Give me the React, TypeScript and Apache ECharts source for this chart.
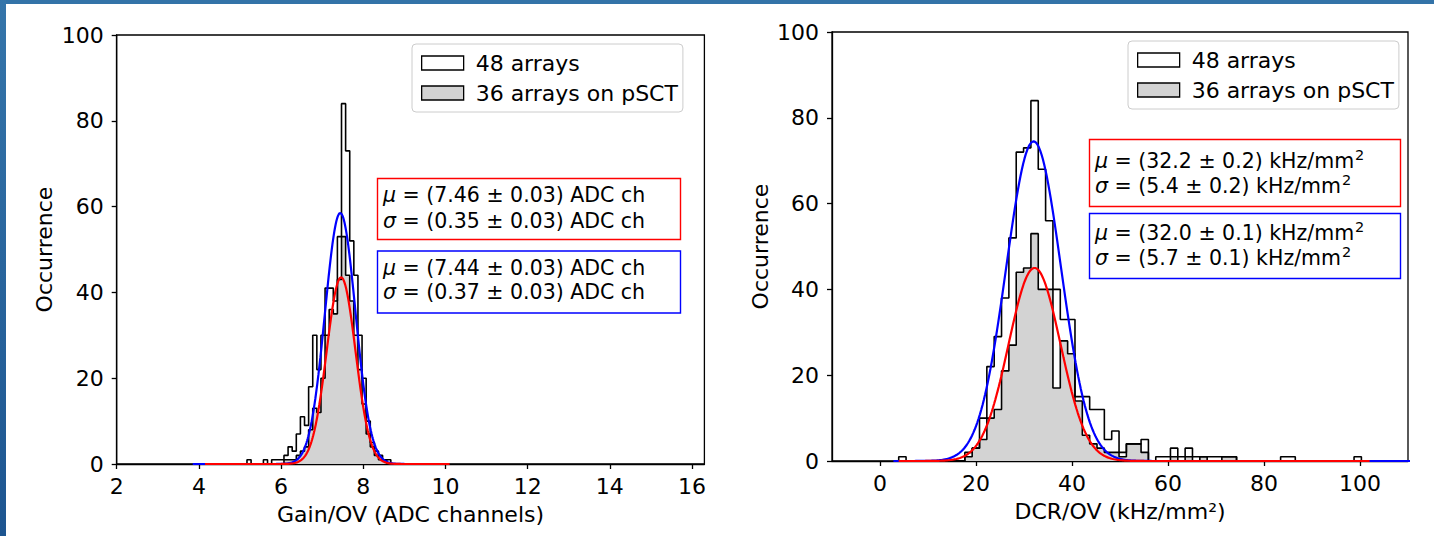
import React, { useEffect, useRef } from "react";
import * as echarts from "echarts";

const FONT = "DejaVu Sans";
const AXIS_FS = 22;

// ---------- Left panel: Gain/OV ----------
const gainBinStart = 5.17;
const gainBinWidth = 0.1;
const gainCounts48 = [1, 0, 0, 0, 1, 0, 1, 1, 1, 2, 4, 3, 7, 11, 9, 18, 30, 22, 30, 41, 41, 38, 53, 84, 73, 52, 44, 30, 20, 10, 5, 3, 2, 1, 1, 0];
const gainCounts36 = [0, 0, 0, 0, 0, 0, 0, 0, 0, 1, 1, 1, 2, 3, 4, 8, 13, 12, 20, 30, 36, 35, 43, 53, 44, 38, 30, 22, 14, 7, 4, 2, 1, 1, 0, 0];
const gainXTicks = [2, 4, 6, 8, 10, 12, 14, 16];
// fit parameters: [36 arrays (red), 48 arrays (blue)]
const gainFitMu = [7.46, 7.44];
const gainFitSigma = [0.35, 0.37];
const gainFitPeak = [43.5, 58.5];
const gainFitFrom = [4.15, 3.85];
const gainFitTo = [10.1, 10.0];
const gainRedLabels = ["(7.46 ± 0.03) ADC ch", "(0.35 ± 0.03) ADC ch"];
const gainBlueLabels = ["(7.44 ± 0.03) ADC ch", "(0.37 ± 0.03) ADC ch"];

// ---------- Right panel: DCR/OV ----------
const dcrBinStart = 3.9;
const dcrBinWidth = 1.53;
const dcrCounts48 = [1, 0, 0, 0, 0, 0, 0, 0, 0,
  2, 3, 10, 22, 29, 38, 52, 72, 73, 84, 68, 56, 40, 33, 33, 15, 15, 12, 12, 5, 7, 2, 4, 4, 5, 0, 1, 1, 3, 1, 3, 1, 1, 1, 1, 1, 1,
  0, 0, 0, 0, 0, 0, 1, 1, 0, 0, 0, 0, 0, 0, 0, 0, 1, 0];
const dcrCounts36 = [0, 0, 0, 0, 0, 0, 0, 0, 0,
  1, 3, 5, 10, 12, 21, 27, 44, 45, 53, 40, 40, 17, 28, 25, 14, 6, 4, 3, 2, 2, 1, 4, 4, 2, 0, 0, 0, 1, 0, 1, 0, 1, 0, 0, 1, 1,
  0, 0, 0, 0, 0, 0, 0, 0, 0, 0, 0, 0, 0, 0, 0, 0, 0, 0];
const dcrXTicks = [0, 20, 40, 60, 80, 100];
const dcrFitMu = [32.2, 32.0];
const dcrFitSigma = [5.4, 5.7];
const dcrFitPeak = [45, 74.5];
const dcrFitFrom = [3.9, 2.8];
const dcrFitTo = [102, 112];
const dcrRedLabels = ["(32.2 ± 0.2) kHz/mm²", "(5.4 ± 0.2) kHz/mm²"];
const dcrBlueLabels = ["(32.0 ± 0.1) kHz/mm²", "(5.7 ± 0.1) kHz/mm²"];

const yTicks = [0, 20, 40, 60, 80, 100];
const seriesNames = ["48 arrays", "36 arrays on pSCT"];

function stepData(start: number, width: number, counts: number[]) {
  const pts: number[][] = [[start, 0]];
  counts.forEach((c, i) => pts.push([+(start + i * width).toFixed(4), c]));
  pts.push([+(start + counts.length * width).toFixed(4), 0]);
  return pts;
}

function gaussCurve(mu: number, sigma: number, peak: number, from: number, to: number) {
  const pts: number[][] = [];
  const n = 400;
  for (let i = 0; i <= n; i++) {
    const x = from + ((to - from) * i) / n;
    pts.push([x, peak * Math.exp(-((x - mu) ** 2) / (2 * sigma * sigma))]);
  }
  return pts;
}

const axisColor = "#000";

function xAxis(gridIndex: number, min: number, max: number, ticks: number[], name: string) {
  return {
    type: "value",
    gridIndex,
    min,
    max,
    name,
    nameLocation: "middle",
    nameGap: 39,
    nameTextStyle: { fontFamily: FONT, fontSize: AXIS_FS, color: "#000" },
    axisLine: { show: true, onZero: false, lineStyle: { color: axisColor, width: 1.3 } },
    axisTick: { show: true, length: 5, lineStyle: { color: axisColor, width: 1.3 }, customValues: ticks },
    axisLabel: { fontFamily: FONT, fontSize: AXIS_FS, color: "#000", margin: 11, customValues: ticks },
    splitLine: { show: false },
  };
}

function yAxis(gridIndex: number) {
  return {
    type: "value",
    gridIndex,
    min: 0,
    max: 100,
    interval: 20,
    name: "Occurrence",
    nameLocation: "middle",
    nameGap: 61,
    nameRotate: 90,
    nameTextStyle: { fontFamily: FONT, fontSize: AXIS_FS, color: "#000" },
    axisLine: { show: true, onZero: false, lineStyle: { color: axisColor, width: 1.3 } },
    axisTick: { show: true, length: 5, lineStyle: { color: axisColor, width: 1.3 }, customValues: yTicks },
    axisLabel: { fontFamily: FONT, fontSize: AXIS_FS, color: "#000", margin: 13, customValues: yTicks },
    splitLine: { show: false },
  };
}

function histSeries(name: string, idx: number, data: number[][], filled: boolean) {
  return {
    name,
    type: "line",
    xAxisIndex: idx,
    yAxisIndex: idx,
    step: "end",
    showSymbol: false,
    symbol: "none",
    data,
    z: filled ? 2 : 3,
    lineStyle: { color: "#000", width: 1.6 },
    itemStyle: { color: filled ? "#d3d3d3" : "#ffffff" },
    areaStyle: filled ? { color: "#d3d3d3", opacity: 1 } : undefined,
    silent: true,
  };
}

function fitSeries(idx: number, color: string, data: number[][], z: number) {
  return {
    type: "line",
    xAxisIndex: idx,
    yAxisIndex: idx,
    showSymbol: false,
    symbol: "none",
    data,
    z,
    lineStyle: { color, width: 2.2 },
    silent: true,
  };
}

function legend(left: number, top: number) {
  return {
    orient: "vertical",
    left,
    top,
    padding: [8, 5, 8, 9],
    itemGap: 8,
    itemWidth: 42,
    itemHeight: 14,
    selectedMode: false,
    backgroundColor: "rgba(255,255,255,0.8)",
    borderColor: "#cccccc",
    borderWidth: 1,
    borderRadius: 4,
    textStyle: { fontFamily: FONT, fontSize: AXIS_FS, color: "#000", padding: [0, 0, 0, 7] },
    data: [
      { name: seriesNames[0], icon: "rect", itemStyle: { color: "#ffffff", borderColor: "#000", borderWidth: 1.3 } },
      { name: seriesNames[1], icon: "rect", itemStyle: { color: "#d3d3d3", borderColor: "#000", borderWidth: 1.3 } },
    ],
  };
}

const FIT_FS = 20.5;

function fitBox(x: number, y: number, w: number, h: number, color: string, lines: string[], textX: number, lineYs: number[]) {
  const els: any[] = [
    {
      type: "rect",
      shape: { x, y, width: w, height: h },
      style: { fill: "#ffffff", stroke: color, lineWidth: 1.4 },
      z: 20,
    },
  ];
  const symbols = ["μ", "σ"];
  lines.forEach((t, i) => {
    els.push({
      type: "text",
      x: textX,
      y: lineYs[i],
      z: 21,
      style: {
        text: `{i|${symbols[i]}} = ${t.replace("²", "{s|2}")}`,
        fontFamily: FONT,
        fontSize: FIT_FS,
        lineHeight: 28,
        fill: "#000",
        verticalAlign: "middle",
        rich: {
          i: { fontStyle: "italic", fontFamily: FONT, fontSize: FIT_FS, lineHeight: 28, fill: "#000" },
          s: { fontFamily: FONT, fontSize: 14.5, lineHeight: 14, verticalAlign: "top", fill: "#000", padding: [0, 0, 0, 1] },
        },
      },
    });
  });
  return els;
}

export default function App() {
  const ref = useRef<HTMLDivElement>(null);

  useEffect(() => {
    if (!ref.current) return;
    const chart = echarts.init(ref.current, undefined, { renderer: "svg" });
    const option: any = {
      animation: false,
      backgroundColor: "transparent",
      textStyle: { fontFamily: FONT },
      grid: [
        { left: 116.7, top: 35, width: 587.7, height: 429, show: true, borderColor: "#000", borderWidth: 1.3, backgroundColor: "transparent" },
        { left: 832, top: 32, width: 576, height: 429, show: true, borderColor: "#000", borderWidth: 1.3, backgroundColor: "transparent" },
      ],
      xAxis: [
        xAxis(0, 2, 16.3, gainXTicks, "Gain/OV (ADC channels)"),
        xAxis(1, -10, 110, dcrXTicks, "DCR/OV (kHz/mm²)"),
      ],
      yAxis: [yAxis(0), yAxis(1)],
      legend: [legend(412, 44), legend(1128, 41)],
      series: [
        histSeries(seriesNames[1], 0, stepData(gainBinStart, gainBinWidth, gainCounts36), true),
        histSeries(seriesNames[0], 0, stepData(gainBinStart, gainBinWidth, gainCounts48), false),
        fitSeries(0, "#0000ff", gaussCurve(gainFitMu[1], gainFitSigma[1], gainFitPeak[1], gainFitFrom[1], gainFitTo[1]), 4),
        fitSeries(0, "#ff0000", gaussCurve(gainFitMu[0], gainFitSigma[0], gainFitPeak[0], gainFitFrom[0], gainFitTo[0]), 5),
        histSeries(seriesNames[1], 1, stepData(dcrBinStart, dcrBinWidth, dcrCounts36), true),
        histSeries(seriesNames[0], 1, stepData(dcrBinStart, dcrBinWidth, dcrCounts48), false),
        fitSeries(1, "#0000ff", gaussCurve(dcrFitMu[1], dcrFitSigma[1], dcrFitPeak[1], dcrFitFrom[1], dcrFitTo[1]), 4),
        fitSeries(1, "#ff0000", gaussCurve(dcrFitMu[0], dcrFitSigma[0], dcrFitPeak[0], dcrFitFrom[0], dcrFitTo[0]), 5),
      ],
      graphic: [
        ...fitBox(377.5, 178.5, 303, 61, "#ff0000", gainRedLabels, 383, [195, 220.5]),
        ...fitBox(377.5, 251, 303, 62, "#0000ff", gainBlueLabels, 383, [267.5, 292]),
        ...fitBox(1089.5, 139.5, 311, 67, "#ff0000", dcrRedLabels, 1095, [161, 186]),
        ...fitBox(1089.5, 213.5, 311, 65, "#0000ff", dcrBlueLabels, 1095, [233, 258]),
      ],
    };
    chart.setOption(option);
    return () => chart.dispose();
  }, []);

  return (
    <div style={{ position: "fixed", left: 0, top: 0, width: 1434, height: 536, background: "#ffffff", overflow: "hidden" }}>
      <div style={{ position: "absolute", left: 0, top: 0, width: 1434, height: 4, background: "#3373a8" }} />
      <div style={{ position: "absolute", left: 0, top: 0, width: 6, height: 536, background: "linear-gradient(to bottom, #3575aa, #1d5590)" }} />
      <div ref={ref} style={{ position: "absolute", left: 0, top: 0, width: 1434, height: 536 }} />
    </div>
  );
}
